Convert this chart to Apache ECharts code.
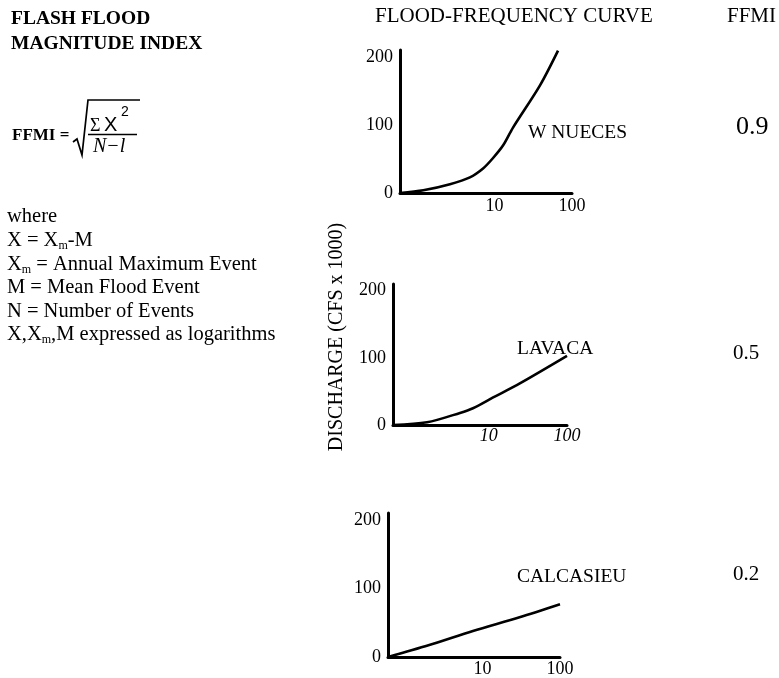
<!DOCTYPE html>
<html>
<head>
<meta charset="utf-8">
<script src="https://cdn.jsdelivr.net/npm/echarts@6/dist/echarts.min.js"></script>
<style>
  html, body { margin: 0; padding: 0; background: #fff; }
  #chart { width: 779px; height: 678px; }
</style>
</head>
<body>
<div id="chart"></div>
<script>
// Flood-frequency curves: recurrence interval (years, log scale) vs discharge (cfs x 1000)
const rivers = ['W NUECES', 'LAVACA', 'CALCASIEU'];
const ffmiValues = ['0.9', '0.5', '0.2'];

const wNuecesInterval = [0.6, 1.2, 2.65, 4.8, 7.1, 9.5, 12.9, 17.3, 38.6, 66];
const wNuecesDischarge = [0, 4, 13, 23, 36, 51, 70, 96, 158, 209];

const lavacaInterval = [0.6, 1.63, 4.3, 6.3, 11.4, 25, 100];
const lavacaDischarge = [0, 4, 18, 25, 41, 62, 103];

const calcasieuInterval = [0.6, 2, 7.5, 30, 100];
const calcasieuDischarge = [0, 17, 38, 58, 77];

const xTickLabels = [10, 100];
const yTickLabels = [0, 100, 200];

const SERIF = '"Liberation Serif", "DejaVu Serif", serif';
const SANS = '"Liberation Sans", Arial, sans-serif';

const curves = [
  [wNuecesInterval, wNuecesDischarge],
  [lavacaInterval, lavacaDischarge],
  [calcasieuInterval, calcasieuDischarge]
];

const grids = [
  { left: 400, top: 50, width: 172, height: 143 },
  { left: 393, top: 284, width: 174, height: 141 },
  { left: 388, top: 513, width: 172, height: 145 }
];
const xLabelMargin = [4, 2, 3];

function isTick(v, list) {
  return list.some(t => Math.abs(v - t) < 1e-6 * Math.max(1, t));
}

const xAxes = grids.map((g, i) => ({
  type: 'log',
  logBase: 10,
  gridIndex: i,
  min: 0.6,
  max: 100,
  axisLine: { lineStyle: { color: '#000', width: 3 } },
  axisTick: { show: false },
  splitLine: { show: false },
  axisLabel: {
    showMinLabel: true,
    showMaxLabel: true,
    margin: xLabelMargin[i],
    fontFamily: SERIF,
    fontSize: 18,
    color: '#000',
    fontStyle: i === 1 ? 'italic' : 'normal',
    formatter: v => isTick(v, xTickLabels) ? String(Math.round(v)) : ''
  }
}));

const yAxes = grids.map((g, i) => ({
  type: 'value',
  gridIndex: i,
  min: 0,
  max: 210,
  interval: 100,
  axisLine: { show: true, lineStyle: { color: '#000', width: 3 } },
  axisTick: { show: false },
  splitLine: { show: false },
  axisLabel: {
    margin: 7,
    fontFamily: SERIF,
    fontSize: 18,
    color: '#000',
    formatter: v => isTick(v, yTickLabels) ? String(v) : ''
  }
}));

const series = curves.map((c, i) => ({
  type: 'line',
  name: rivers[i],
  xAxisIndex: i,
  yAxisIndex: i,
  smooth: 0.3,
  showSymbol: false,
  symbol: 'none',
  lineStyle: { color: '#000', width: 2.6 },
  data: c[0].map((x, k) => [x, c[1][k]])
}));

// text placed by its left edge and vertical centre
function txt(text, x, y, font) {
  return {
    type: 'text',
    x: x,
    y: y,
    style: { text: text, fill: '#000', font: font, align: 'left', verticalAlign: 'middle' }
  };
}

const subRich = {
  n: { fontFamily: SERIF, fontSize: 20.5, lineHeight: 22, verticalAlign: 'middle' },
  s: { fontFamily: SERIF, fontSize: 12, lineHeight: 4, verticalAlign: 'bottom' }
};

function richTxt(text, x, y) {
  return {
    type: 'text',
    x: x,
    y: y,
    style: { text: text, fill: '#000', rich: subRich, align: 'left', verticalAlign: 'middle' }
  };
}

const f = (size, extra) => (extra ? extra + ' ' : '') + size + 'px ' + SERIF;

const defLines = [
  '{n|X = X}{s|m}{n|-M}',
  '{n|X}{s|m}{n| = Annual Maximum Event}',
  '{n|M = Mean Flood Event}',
  '{n|N = Number of Events}',
  '{n|X,X}{s|m}{n|,M expressed as logarithms}'
];

const graphic = [
  // left-hand title
  txt('FLASH FLOOD', 11, 19, f(19.5, 'bold')),
  txt('MAGNITUDE INDEX', 11, 44, f(19.5, 'bold')),

  // FFMI = sqrt( sum X^2 / (N-1) )
  txt('FFMI =', 12, 136, f(17, 'bold')),
  {
    type: 'polyline',
    shape: { points: [[73, 142], [77, 139], [82, 155], [88, 100], [140, 100]] },
    style: { stroke: '#000', lineWidth: 1.7, fill: null }
  },
  {
    type: 'line',
    shape: { x1: 88, y1: 134.5, x2: 137, y2: 134.5 },
    style: { stroke: '#000', lineWidth: 1.6 }
  },
  txt('Σ', 90, 126, f(18)),
  txt('X', 104, 125, '20px ' + SANS),
  txt('2', 121, 112, '14px ' + SANS),
  txt('N\u2212l', 93, 147, f(20, 'italic')),

  // definitions
  txt('where', 7, 217, f(20.5))
].concat(defLines.map((t, k) => richTxt(t, 7, 241 + k * 23.5))).concat([
  // column headings
  txt('FLOOD-FREQUENCY CURVE', 375, 16, f(21)),
  txt('FFMI', 727, 16, f(21)),

  // vertical axis title shared by the three panels
  {
    type: 'text',
    x: 337,
    y: 337,
    rotation: Math.PI / 2,
    style: {
      text: 'DISCHARGE (CFS x 1000)',
      fill: '#000',
      font: f(20),
      align: 'center',
      verticalAlign: 'middle'
    }
  },

  // river names beside each curve
  txt(rivers[0], 528, 133, f(19.5)),
  txt(rivers[1], 517, 349, f(19.5)),
  txt(rivers[2], 517, 577, f(19.5)),

  // index values
  txt(ffmiValues[0], 736, 127, f(26)),
  txt(ffmiValues[1], 733, 353, f(21)),
  txt(ffmiValues[2], 733, 574, f(21))
]);

const chart = echarts.init(document.getElementById('chart'), null, { renderer: 'canvas' });
chart.setOption({
  animation: false,
  backgroundColor: '#fff',
  grid: grids,
  xAxis: xAxes,
  yAxis: yAxes,
  series: series,
  graphic: graphic
});
</script>
</body>
</html>
